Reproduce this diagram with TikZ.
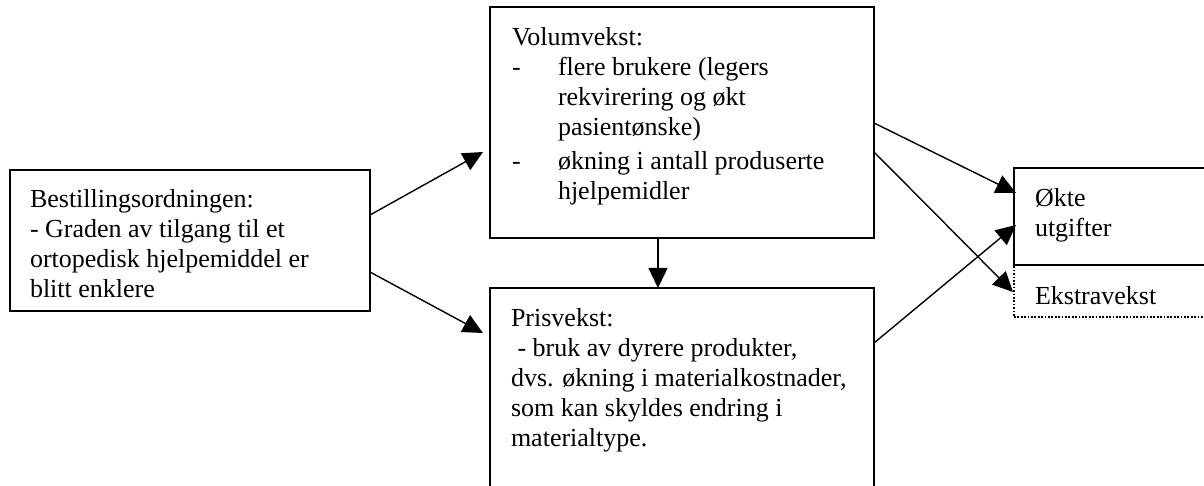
\documentclass[tikz,border=0pt]{standalone}
\usepackage{fontspec}
\setmainfont{Liberation Serif}
\usetikzlibrary{arrows.meta,calc}
\begin{document}
\begin{tikzpicture}[x=1pt,y=-1pt,
  box/.style={draw, line width=2pt, inner sep=0pt, outer sep=0pt, anchor=north west},
  dotbox/.style={draw, line width=2pt, dash pattern=on 1.7pt off 1.7pt, inner sep=0pt, outer sep=0pt, anchor=north west},
  txt/.style={inner sep=0pt, outer sep=0pt, anchor=north west, align=left, font=\fontsize{26}{30}\selectfont},
  conn/.style={line width=1.4pt, -{Triangle[length=20pt,width=19pt]}},
]
\useasboundingbox (0,0) rectangle (1204,486);
\fill[white] (0,0) rectangle (1204,486);
\clip (0,0) rectangle (1204,486);

% boxes
\node[box, minimum width=360pt, minimum height=141pt] (B) at (10,170) {};
\node[box, minimum width=384pt, minimum height=231pt] (V) at (490,7) {};
\node[box, minimum width=384pt, minimum height=207pt] (P) at (490,288) {};
\node[dotbox, minimum width=196pt, minimum height=52pt] (E) at (1014,265) {};
\node[box, minimum width=196pt, minimum height=97pt] (O) at (1014,168) {};

% texts
\node[txt] (tB) at (30,188) {\rule{0pt}{20pt}Bestillingsordningen:\\- Graden av tilgang til et\\ortopedisk hjelpemiddel er\\blitt enklere};
\node[txt] (tV) at (512,26) {\rule{0pt}{20pt}Volumvekst:\\\makebox[46pt][l]{-}flere brukere (legers\\\hspace*{46pt}rekvirering og økt\\\hspace*{46pt}pasientønske)\\[4pt]\makebox[46pt][l]{-}økning i antall produserte\\\hspace*{46pt}hjelpemidler};
\node[txt] (tP) at (511,306) {\rule{0pt}{20pt}Prisvekst:\\\hspace*{6.5pt}- bruk av dyrere produkter,\\dvs. økning i materialkostnader,\\som kan skyldes endring i\\materialtype.};
\node[txt] (tO) at (1035,187) {\rule{0pt}{20pt}Økte\\utgifter};
\node[txt] (tE) at (1035,284) {\rule{0pt}{20pt}Ekstravekst};

% connector end points
\coordinate (bv) at ($(B.north east)+(0,45)$);
\coordinate (bp) at ($(B.north east)+(0,102)$);
\coordinate (vb) at ($(V.north west)+(-7,145)$);
\coordinate (pb) at ($(P.north west)+(-7,45)$);
\coordinate (vs) at ($(V.south west)+(168,0)$);
\coordinate (pn) at ($(P.north west)+(168,0)$);
\coordinate (vo) at ($(V.north east)+(0,116)$);
\coordinate (ve) at ($(V.north east)+(0,145)$);
\coordinate (po) at ($(P.north east)+(0,55)$);
\coordinate (ov) at ($(O.north west)+(2,25)$);
\coordinate (op) at ($(O.north west)+(2,57)$);
\coordinate (ev) at ($(E.north west)+(-1,27)$);

% connectors
\draw[conn] (bv) -- (vb);
\draw[conn] (bp) -- (pb);
\draw[conn] (vs) -- (pn);
\draw[conn] (vo) -- (ov);
\draw[conn] (ve) -- (ev);
\draw[conn] (po) -- (op);
\end{tikzpicture}
\end{document}
